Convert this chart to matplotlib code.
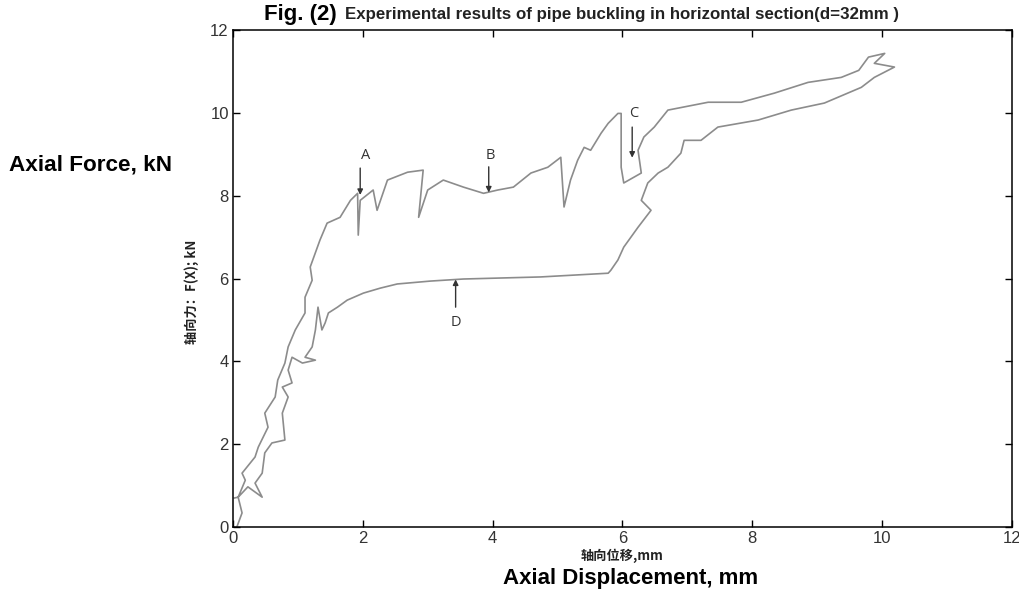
import matplotlib
matplotlib.use("Agg")
import matplotlib.pyplot as plt

# Hysteresis loop of axial force vs axial displacement
disp_mm = [0.06, 0.14, 0.08, 0.19, 0.14, 0.34, 0.39, 0.54, 0.49, 0.65, 0.69, 0.80,
           0.85, 0.96, 1.11, 1.11, 1.22, 1.19, 1.34, 1.45, 1.65, 1.81, 1.92, 1.93,
           1.96, 2.16, 2.22, 2.38, 2.69, 2.93, 2.86, 3.00, 3.24, 3.55, 3.86, 4.08,
           4.32, 4.59, 4.85, 5.05, 5.10, 5.20, 5.31, 5.41, 5.51, 5.67, 5.78, 5.93,
           5.98, 5.98, 6.02, 6.29, 6.24, 6.33, 6.49, 6.70, 7.32, 7.83, 8.34, 8.86,
           9.37, 9.64, 9.79, 10.04, 9.88, 10.19, 9.88, 9.68, 9.11, 8.60, 8.09, 7.47,
           7.21, 6.95, 6.90, 6.70, 6.55, 6.39, 6.29, 6.44, 6.24, 6.02, 5.93, 5.82,
           5.78, 4.74, 3.55, 3.04, 2.53, 2.27, 2.01, 1.76, 1.61, 1.47, 1.42, 1.37,
           1.31, 1.27, 1.22, 1.11, 1.27, 1.07, 0.91, 0.85, 0.91, 0.76, 0.85, 0.76,
           0.80, 0.60, 0.49, 0.45, 0.34, 0.45, 0.23, 0.08, 0.02]
force_kn = [0.00, 0.34, 0.72, 1.13, 1.30, 1.69, 1.93, 2.41, 2.75, 3.14, 3.55, 3.96,
            4.35, 4.76, 5.17, 5.55, 5.96, 6.28, 6.93, 7.34, 7.48, 7.89, 8.06, 7.05,
            7.89, 8.14, 7.65, 8.38, 8.57, 8.62, 7.48, 8.14, 8.38, 8.21, 8.06, 8.14,
            8.21, 8.55, 8.69, 8.93, 7.73, 8.38, 8.86, 9.17, 9.10, 9.51, 9.75, 9.99,
            9.99, 8.69, 8.31, 8.55, 9.10, 9.42, 9.66, 10.07, 10.26, 10.26, 10.48, 10.74,
            10.86, 11.03, 11.35, 11.44, 11.20, 11.11, 10.86, 10.62, 10.24, 10.07, 9.83, 9.66,
            9.34, 9.34, 9.03, 8.69, 8.55, 8.31, 7.89, 7.65, 7.24, 6.76, 6.45, 6.20,
            6.13, 6.04, 5.99, 5.94, 5.87, 5.77, 5.65, 5.48, 5.31, 5.17, 4.93, 4.76,
            5.31, 4.76, 4.35, 4.10, 4.03, 3.96, 4.10, 3.79, 3.48, 3.38, 3.14, 2.75,
            2.10, 2.03, 1.79, 1.30, 1.06, 0.72, 0.97, 0.72, 0.70]

# Point labels: (label, text position, arrow tail, arrow tip)
point_labels = ["A", "B", "C", "D"]
label_xy = [(2.04, 8.98), (3.97, 8.98), (6.18, 10.00), (3.43, 4.95)]
arrow_tail = [(1.96, 8.67), (3.94, 8.70), (6.15, 9.66), (3.43, 5.31)]
arrow_tip = [(1.96, 8.02), (3.94, 8.08), (6.15, 8.92), (3.43, 5.98)]

x_ticks = [0, 2, 4, 6, 8, 10, 12]
y_ticks = [0, 2, 4, 6, 8, 10, 12]

plt.rcParams['font.family'] = ["Liberation Sans", "Noto Sans CJK SC", "DejaVu Sans"]
cjk = ["Noto Sans CJK SC", "DejaVu Sans"]

fig = plt.figure(figsize=(10.2, 5.9), dpi=100)
ax = fig.add_axes([0.2284, 0.1068, 0.7637, 0.842])

ax.plot(disp_mm, force_kn, color="#8c8c8c", lw=1.2)

for lab, t, a, b in zip(point_labels, label_xy, arrow_tail, arrow_tip):
    ax.text(t[0], t[1], lab, ha="center", va="center", fontsize=10.5,
            color="#333333", family=["Open Sans", "DejaVu Sans"])
    ax.annotate("", xy=b, xytext=a,
                arrowprops=dict(arrowstyle="-|>", color="#333333", lw=1.0,
                                mutation_scale=8, shrinkA=0, shrinkB=0))

ax.set_xlim(0, 12)
ax.set_ylim(0, 12)
ax.set_xticks(x_ticks)
ax.set_yticks(y_ticks)
ax.tick_params(direction="in", top=True, right=True, length=5, width=1,
               labelsize=12, pad=3, labelcolor="#333333")
for s in ax.spines.values():
    s.set_linewidth(1.1)

# Title
fig.text(0.259, 0.976, "Fig. (2)", fontsize=16, fontweight="bold", ha="left", va="center")
fig.text(0.338, 0.976, "Experimental results of pipe buckling in horizontal section(d=32mm )",
         fontsize=12.2, fontweight="bold", ha="left", va="center", color="#222222")

# Axis labels
fig.text(0.009, 0.72, "Axial Force, kN", fontsize=16.2, fontweight="bold", ha="left", va="center")
fig.text(0.188, 0.505, "轴向力：F(X); kN", rotation=90, fontsize=9.5, fontweight="bold",
         ha="center", va="center", family=cjk, color="#222222")
fig.text(0.61, 0.058, "轴向位移,mm", fontsize=9.5, fontweight="bold", ha="center", va="center",
         family=cjk, color="#222222")
fig.text(0.618, 0.020, "Axial Displacement, mm", fontsize=16, fontweight="bold",
         ha="center", va="center")

fig.savefig("out.png", dpi=100)
